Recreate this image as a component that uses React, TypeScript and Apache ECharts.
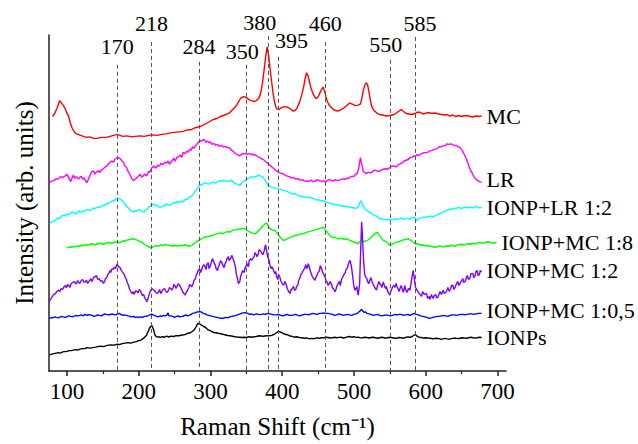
import React, { useEffect, useRef } from "react";
import * as echarts from "echarts";

// Raman shift (cm-1) vs intensity (arb. units, stacked offsets)
const mcData: number[][] = [
  [80,256],[83,259],[86,264],[88,268],[90,272],[92,270],[94,268],[96,266],[98,263],[100,259],[102,257],[105,249],[107,245],[109,242],[112,239],[115,238],[119,237],[123,236],[127,235],[132,235.5],[137,234],[142,234],[148,235],[155,235],[160,236],[165,237],[170,238],[174,237],[178,236],[184,236.5],[190,235.5],[196,236],[202,236.5],[208,236],[214,237],[220,237.5],[226,237],[232,238],[238,238.5],[244,239.5],[250,240],[256,240.5],[262,241],[268,242.5],[274,243],[280,245],[286,246],[292,248],[298,250.5],[304,253],[309,254],[314,256],[318,257],[323,258.5],[327,260],[331,263],[334,265],[337,268],[340,272],[343,275],[346,276],[349,275.5],[352,274],[355,272.5],[358,272],[361,271],[364,272],[367,274],[369,277],[371,283],[373,292],[375,304],[377,316],[379,326],[381,318],[383,305],[385,293],[387,281],[389,272],[391,266],[393,263.5],[396,263],[399,265],[403,266],[407,265.5],[411,264],[415,261.5],[418,262],[421,265],[424,270],[427,277],[430,286],[432,294],[434,300],[436,297],[438,291],[440,285],[443,279],[446,275],[448,274],[451,277],[454,282],[457,285.7],[459,282],[461,276],[463,271],[466,267],[470,264],[474,262],[478,261.5],[482,263],[486,264.5],[490,267],[494,269.5],[498,268.5],[502,267],[506,267.5],[509,268.5],[511,274],[513,282],[515,287],[517,290],[519,288],[521,281],[523,272],[525,266],[528,262],[532,259.5],[536,258],[540,257.5],[545,256.5],[550,257],[554,257.5],[558,259],[562,261],[566,263],[569,261],[573,259],[577,258.5],[581,258],[585,259],[589,260.5],[593,260],[597,258.5],[601,259.5],[605,260],[609,259],[613,259.5],[618,258.5],[622,258],[626,257.5],[630,258],[634,256.5],[638,257.5],[642,256],[646,257],[650,256],[655,257],[660,256.5],[665,255.5],[670,256.5],[674,256],[678,256.5]
];

const lrData: number[][] = [
  [76,189.7],[79,191],[82,191.5],[85,193.5],[88,193],[91,195.5],[94,194.5],[97,196],[100,198],[103,194],[105,190.3],[107,194],[109,197],[111,194],[113,195.5],[116,193],[118,194.7],[120,196],[122,193],[124,194],[126,191],[128,189.7],[131,195],[134,200],[137,201.3],[139,198],[141,200],[144,201.5],[146,199.7],[148,202],[150,203],[153,205],[156,206.3],[158,208.5],[160,210],[163,211.3],[165,210],[167,213],[170,214.5],[172,214.7],[175,213],[177,211],[179,209.7],[181,206],[183,205],[185,201],[187,199],[190,194],[193,191.3],[195,193],[197,194],[200,196.5],[202,198],[204,195],[206,196],[208,198],[211,196.3],[214,201],[216,200],[218,204],[221,206.3],[224,204],[226,207],[229,206],[231,209],[234,207.5],[236,210],[239,209],[241,211.3],[243,208],[245,210],[247,212],[249,214],[251,211],[253,214.7],[256,216],[258,217],[260,215],[262,220],[265,218.5],[267,221.3],[269,220],[271,223],[273,222],[275,225.5],[277,224],[279,226.3],[281,228],[283,230],[286,232],[288,231.3],[291,233],[294,230],[296,231.5],[298,229.5],[300,230.5],[302,228],[305,229],[307,227],[310,228],[312,226],[315,227],[318,225.5],[321,226],[323,224.7],[326,225],[328,223],[331,221.5],[333,220],[335,218.5],[337,218],[340,216.5],[342,217],[345,219],[347,218],[349,219],[351,218],[354,219],[356,217.5],[359,218.5],[361,217],[363,217.5],[365,216.3],[368,215],[370,214],[373,213],[375,212],[377,210.5],[379,209.7],[381,208],[383,207],[386,205],[388,204],[390,202.5],[392,201.3],[395,200],[398,199],[401,198.5],[404,197],[407,196],[410,195.5],[413,194],[416,194.7],[419,193],[422,193.5],[425,192],[428,192.5],[431,191],[434,191.3],[437,190.5],[440,192],[443,190.5],[446,191],[449,192.5],[452,191.5],[455,190.5],[457,191.3],[460,190],[462,191.3],[465,192.5],[468,192],[471,191],[474,192.5],[477,191.5],[480,192],[483,193],[486,193.5],[488,192.5],[490,194],[492,193.5],[494,194.7],[496,195.5],[498,196],[500,195.5],[502,197.5],[505,199],[507,205],[509,214.7],[511,208],[513,201],[515,199.7],[517,198.5],[520,200],[523,199],[526,200.5],[529,202],[532,201.3],[535,200.5],[538,202],[541,203],[544,203.5],[547,203],[550,204.7],[553,206],[556,206],[559,205.5],[562,207.5],[565,208.5],[568,209.7],[570,211.5],[573,212],[576,213],[578,214.5],[581,215],[583,216.3],[586,216],[588,217.5],[591,217],[594,218.5],[597,219.5],[601,219.7],[604,220.5],[606,221.5],[609,222],[612,223],[615,223.5],[617,224.3],[620,226],[622,225.5],[625,226.5],[628,227],[630,228.5],[633,228],[636,228.5],[638,227.5],[641,227],[643,226.5],[646,225.5],[648,224.7],[651,222],[653,219],[655,216.3],[658,211],[661,204.7],[664,200],[666,197.5],[668,194.7],[670,193],[672,192],[675,190.5],[678,189.7]
];

const lr12Data: number[][] = [
  [76,148],[78,149.5],[80,151],[82,150.5],[84,152],[86,153.5],[88,154],[90,153],[92,155.5],[94,156.5],[96,157],[98,156],[100,158],[102,157],[105,158.5],[107,160],[110,159],[112,158],[115,159.5],[117,161],[120,159.7],[122,160.5],[125,161],[127,162.5],[130,162],[132,161],[135,163],[137,164],[140,163.5],[143,165],[146,164.7],[148,166],[150,167],[152,166],[155,168.5],[157,168],[160,169.7],[162,170.5],[164,171.5],[166,171],[168,173],[170,173.2],[172,173.7],[174,173],[176,172],[178,170.5],[180,169],[182,167],[184,165],[186,164],[188,162],[190,161],[193,159.7],[195,161.5],[198,161],[200,162.5],[203,161.5],[205,160],[208,160.3],[210,162],[212,163],[214,165],[216,166],[218,167.5],[221,168],[223,167],[226,166.5],[228,165],[231,164.7],[233,166],[236,166],[238,168],[241,167.5],[243,166.5],[246,168],[249,169.5],[252,169],[254,170.5],[257,169.7],[259,171],[262,170],[264,172],[266,173],[268,172.5],[270,174.7],[272,175.5],[274,176],[276,178],[278,180],[280,182],[282,184],[284,186],[286,188],[288,187],[290,188.5],[292,189.5],[295,189],[297,188],[300,188.5],[302,190],[305,189.7],[307,189],[310,190],[313,191.5],[316,190.5],[319,192],[322,191],[324,190.5],[327,191.3],[329,192],[332,190],[334,189],[337,188],[339,187.5],[341,186.3],[343,188.5],[345,190],[347,191],[350,192.5],[352,193.5],[355,194],[357,195.5],[360,194.7],[362,195.5],[365,196],[367,197],[369,196.3],[371,196],[373,195],[375,193],[377,191],[379,188.5],[381,186.3],[383,186],[385,185],[388,184.5],[390,184],[393,183.5],[397,183],[400,182],[403,181.5],[406,181],[409,180],[412,179],[415,178],[418,178.5],[421,177],[424,176],[428,175.5],[431,175],[434,174.7],[437,175],[440,174],[443,173.5],[446,173],[449,172],[452,172],[455,171],[457,171.3],[460,170.5],[462,169.7],[465,169],[468,168.5],[471,168],[474,167.5],[477,167],[480,166.5],[483,166],[486,165.5],[488,166],[490,165],[492,165.5],[494.5,164.7],[496,165],[498,164],[500,164.5],[502,163.5],[504,164],[506,165],[508,169],[510,171.3],[512,168],[515,163],[517,162],[520,160.5],[522,159.5],[525,158.5],[527,157],[530,156.5],[533,155],[536,153],[539,153.5],[542,152.5],[545,152],[548,152],[550,151.5],[552,152.5],[555,152],[557,153.5],[560,152.5],[563,153],[566,154],[569,152.5],[572,153],[575,153.5],[578,152.5],[580,154],[582,154.5],[585,154.7],[587,151.3],[590,153],[592,154],[595,154],[597,155],[600,154.5],[603,155.5],[605,155],[608,156],[610,154.7],[613,156],[616,157],[619,158],[622,159],[625,160],[628,161],[631,162],[634,163],[637,162.5],[640,163.5],[643,164],[646,164.5],[649,163.5],[652,164],[655,165],[657,164.7],[660,164],[662,165],[665,164],[667,164.5],[670,165.5],[672,165],[675,164],[678,164.7]
];

const mc18Data: number[][] = [
  [100,124],[103,124.5],[105,125],[108,124.5],[110,125.5],[113,125],[115,126],[118,125.5],[120,126.5],[123,126],[125.5,127.3],[128,126.5],[131,127],[134,128],[137,127.5],[140,127],[143,128],[146,128.5],[148.8,128],[151,127.5],[154,128.5],[157,129.5],[160,129],[162,128.5],[165,129],[168,130],[170,129.7],[173,129],[175,129.5],[178,131],[180,130.5],[183,131.5],[186,132],[189,132.5],[192.8,133],[195,132.5],[197,132],[199,131],[201,130.5],[203,130],[204.5,129.7],[206,128.5],[208,127.5],[210,126.5],[212,125.5],[214,125],[216,124],[218,124.5],[221,125],[223,126],[226,126],[228,125.5],[231,127],[234,126],[237,127.3],[239,127],[242,126.5],[245,126],[248,125.5],[251,126.5],[255.4,125.3],[258,126.5],[261,126],[264,127],[267,126.5],[270,125.5],[274,126.3],[276,127.5],[279,129],[281,130.5],[283,131.3],[286,132],[288,133.5],[291,134.5],[295,135],[298,135.5],[302,136.3],[305,137],[308,138],[311,138.5],[314,139],[317,138],[320.5,139.7],[323,140],[325,140.5],[327,139.5],[330,141.3],[333,142],[336,142],[339,143],[342,142.5],[345,143.5],[348.3,143],[350,142],[352,141],[355,140],[357,139],[360,138.5],[362,138],[364,139],[367,141],[370,143],[372,145],[374,146.5],[376,148],[378.5,149],[380,147],[381,145],[383,143.5],[386,142],[388,141.5],[390,141.3],[392,139.5],[395,137],[398,134],[401.6,131.3],[404,132],[407,133],[410,134],[413,135],[416,136],[420,136.5],[422,137],[425,137.5],[427,138.5],[429.5,138],[432,139],[436,140],[439,140.5],[443,141.5],[446,142],[450,143],[453,143.5],[457.3,144.7],[459,143],[461,141],[463,139.5],[465,137.5],[467,136],[469,134.7],[472,134.5],[475,134],[478,133],[482,133.5],[486,132.5],[490,133],[493,132],[496,131],[499,130],[501,129.5],[504,128.5],[506,128],[508,130],[510.8,131.3],[513,130],[515,130.5],[517,131],[520,132],[522,133],[525,135],[527,137],[530,138.5],[532.5,139.7],[534,138],[536,136],[538,134],[540,132],[543,131],[545,130],[548,128],[550,126.3],[552,127],[555,128],[557,129],[559,129.7],[562,130],[564,130.5],[567,131.5],[570,132],[573,132.5],[575.7,133],[578,132],[580,131],[583,129.5],[585,128],[588,128],[590,127.5],[593,126.5],[596,127],[599,126],[602,126.5],[605,125.5],[608,125.5],[612,124.5],[615,124.7],[618,125.5],[622,125.5],[625,124.5],[629,126],[632,125.5],[636,126.5],[640,125.5],[643,126.3],[646,127],[650,127.5],[654,126.5],[658,128],[662,127.5],[666,128.5],[670,128],[675.5,129.7],[678,128.5],[682,129],[686,130],[690,129.5],[694,128.5],[698.7,129.7]
];

const mc12Data: number[][] = [
  [75.4,69.7],[77,72],[79,74],[81,76.5],[83,77],[85,79],[86,80],[88.4,81.3],[90,80],[92,83],[94,82],[96,85],[98,86],[99,83.5],[101,87],[102,86.3],[104,84],[106,88],[108,89],[110,90],[112,88],[113,87.5],[115,91],[116,89.7],[118,88],[120,91],[122,92],[124,89],[126,90],[127,91.5],[129,88],[130,89.7],[132,91],[133,93],[135,90],[136,92],[138,95],[139.5,94.7],[141,96],[143,92],[145,93],[147,90],[149,91],[151,88],[153,91],[154,93],[156,95],[157,97],[159,99],[160,101],[161,99],[162.7,103],[164,102],[166,104.5],[168,103],[169,106],[170,107.5],[171,106.3],[172,105],[174,104],[176,101],[178,99],[180,97],[181,94.7],[183,92],[184,89],[186,86],[187,83],[189,80],[190.5,78],[192,80],[193,77],[195,79],[196,81],[198,80],[199,78.5],[201,82],[202,81.3],[204,78],[205,76],[207,77],[208,74],[210,72],[211.4,69.7],[213,73],[214,75],[215,78],[216,80],[218.4,83],[220,82],[222,81],[224,79],[226,78],[228,80],[229,82],[231,78],[232,79.7],[234,82],[236,83],[238,80],[240,79],[242,82],[243,84],[245,83],[246,81.3],[248,84],[249,87],[251,85],[252,83],[254,86],[255.4,88],[257,86],[258,85],[260,82],[261,80],[263,78],[264.8,76.3],[266,79],[268,81],[270,84],[271,87],[273,86],[274,84.7],[276,88],[277,91],[279,93],[280,96],[282,99],[283,101.3],[285,103],[286,99],[288,102],[289,105],[291,107],[292.6,104.7],[294,102],[295,107],[297,109],[298,103],[300,106],[302,111.3],[303,113],[305,109],[307,106],[308,103],[310,101],[311,104.7],[313,108],[314,111],[316,109],[317,107],[319,104],[320.5,108],[322,110],[323,113],[325,115],[326,111],[328,113],[330,116.3],[331,114],[333,110],[335,104],[336,98],[338,92],[339,88],[341,90],[342,95],[344,99],[345,101],[347,99],[348,103],[350,106],[351,108],[353,105],[354,111],[356,113],[357.6,111.3],[359,113],[361,115],[362,119],[364,117],[365,115],[366.8,118],[368,122],[370,121],[372,118],[373,117],[375,121],[376,124.7],[377,127],[378,122],[379,118],[380,114.7],[382,111],[383,106],[385,103],[386,105],[388,101],[390,98],[391,100],[392.4,94.7],[394,92],[395,97],[397,94],[398,91],[400,88],[401.6,86.3],[403,88],[404,90],[406,86],[407,83],[409,80],[411,78],[412,81],[414,83],[416,85],[417,81],[419,82],[420,84.7],[422,87],[423,91],[425,94],[426,97],[428,99],[429.5,101.3],[431,103],[432,105],[433,107],[434,103],[435,104],[436.4,108],[438,104],[439,101],[441,97],[442,95],[444,93],[445.7,91.3],[447,94],[449,97],[450,99],[452,101],[453,106],[455,103],[456,100],[458,97],[460,94],[461,91],[463,89],[464,86.3],[466,88],[467,90],[469,87],[470,84],[472,82],[473.6,79.7],[475,82],[476,85],[478,88],[480,90],[481,86],[483,93],[485,95],[486,97],[488,99],[489,102],[491,104],[492,107],[493,109],[494.5,111.3],[496,107],[497,103],[498,97],[499,91],[500,85],[501.5,81.3],[503,83],[504,85],[505,80],[506,76.3],[507,82],[508,88],[509.5,123],[510.8,150],[512,133],[513.5,111],[515,98],[516,95],[518,93],[519,90],[521,88],[522,91],[524,94],[525,90],[527,87],[529,84],[531.6,81.3],[533,86],[535,90],[536,88],[538,86],[539,84],[541,89.7],[542,87],[544,83],[545,85],[547,80],[549,78],[550,76.3],[551,79],[553,83],[554,85],[556,86],[557,84],[559,88],[560,85],[562,82],[563,80],[565,84.7],[566,86],[568,81],[569,79],[571,86],[572,82],[574,79],[576,83],[578,81.3],[579,85],[580,90],[581,95],[582.6,101.3],[584,94],[585,88],[586,84],[588,81.3],[590,79],[592,77],[594,75],[596,80],[598,77],[601,78],[603,73],[605,75],[606,72],[608,77],[609,75],[610.5,73],[612,76],[614,77],[615,74],[617,74],[619,78],[620,80],[622,77],[624.4,81.3],[626,78],[628,79],[630,82],[631,84],[633,80],[635,83],[636,86],[638,86.3],[639,82],[641,84],[643,88],[645,90],[646,86],[648,88],[650,91],[652,93],[653,89],[655,90],[657,94],[658,96],[660,92],[662,94],[663,98],[666,98],[667,94],[669,96],[670,100],[672,101],[673,96],[675,97],[676,101],[678,99.7]
];

const mc105Data: number[][] = [
  [75,53],[78,53.5],[80,53.5],[83,54.5],[85,54],[88,53.5],[90,54.2],[93,55],[95,54.5],[98,54],[100,54.7],[103,55.5],[105,55],[108,54.5],[110,55.2],[113,56],[115,55.5],[118,56],[120,56.5],[123,55.5],[125,57],[128,56],[130,56.7],[133,56.5],[135,56],[138,55],[140,55.5],[143,56.5],[145,56],[148,55.5],[150,56.5],[153,57.5],[155,57],[158,56.5],[160,56.8],[163,57.5],[165,57],[168,56.5],[170,57.3],[173,58],[175,57],[178,56],[180,56.5],[183,56],[185,55.5],[188,55],[190,54.5],[193,55],[195,54],[198,54.5],[200,53.7],[203,54.5],[205,54],[208,55],[210,55],[212,55.5],[214,56],[216,56.5],[218,57.3],[220,56.5],[222,56],[225,55],[227,54.5],[230,55.5],[232,55],[235,56],[237,55.5],[239,56],[241,58.5],[242,55.5],[245,55.5],[247,55],[250,54],[252,54.7],[255,55.5],[257,54.5],[260,55],[262,55],[264,56],[266,56.5],[268,55.5],[270,56],[273,57],[275,58],[278,58.5],[280,59],[282,59.5],[284.8,59.7],[287,59.5],[290,58],[293,57.5],[295,56.5],[298,56],[300,55.5],[303,55],[306,54.5],[309,54],[312,53.5],[315,53],[318,53],[321,54],[324,53.5],[327,54.5],[330,55],[333,55.5],[336,56],[339,57],[342,57.5],[345,58.5],[348,58.7],[350,58.5],[352,58],[355,57],[357,57.5],[360,56.5],[362,57],[365,57.5],[368,56.7],[371,57],[374,57.5],[377,57],[380,58],[383,57.5],[386,57],[389,56.5],[392,56.5],[395,57],[398,56],[401,55.5],[404,56.3],[407,57],[410,56],[413,56],[416,56.5],[419,57],[422,56],[425,55.5],[428,56.5],[431,57],[434,57],[437,56.5],[440,57.5],[443,58],[446,57.5],[449,57],[452,58],[455,58],[458,58.5],[461,58],[464,58],[467,57.5],[470,57],[473,56],[476,56.5],[479,57.5],[482,57],[485,56],[488,56.5],[491,57],[494,56.5],[497,56],[500,57],[503,57.5],[505,58],[508,60],[510.8,62],[512,60.5],[514,59],[516,59.5],[518,58],[521,57.5],[524,57],[527,56],[530,56.5],[533,57],[536,56],[539,55.5],[542,56],[545,56.5],[548,56],[551,55.5],[554,56],[557,57],[560,56.5],[563,57],[566,57],[569,56],[572,56.5],[575,57],[578,56],[581,57],[584,58],[587,57],[590,56.5],[593,55.5],[596,55],[599,54.5],[602,54],[605,53],[608,53.5],[610,54],[613,54.5],[616,55],[619,55],[622,55.5],[625,56],[628,55.5],[631,55],[634,56],[637,56.5],[640,56.5],[643,56],[646,56.5],[649,57],[652,57],[655,56.5],[658,57],[661,57.5],[664,57.5],[667,57],[670,57.5],[674,58],[678,58]
];

const ionpData: number[][] = [
  [76,16.3],[79,17],[82,17.5],[85,18],[88,18.5],[91,18],[94,19.2],[97,19.5],[100,19.7],[103,20.5],[106,20.5],[109,21],[112,21.5],[115,21],[118,22],[121,22.5],[125,22.5],[128,23.5],[132.5,23],[136,23.5],[140,24],[143,24.5],[147,25],[151,24.5],[155,25.5],[158,26],[162,26.2],[166,26],[170,27],[173,26.5],[177,27.5],[181,28],[185,28.5],[189,28],[193,29],[197,29.5],[200,30.5],[203,31],[205,32],[207,33],[209,34.5],[211,36],[212,38],[214,41],[215,43],[217,45],[218.4,45.7],[220,43],[221,41],[222,38],[223,35.7],[225,34.5],[226,34],[228,34.5],[230,33.7],[233,34.5],[236,34],[239,35],[242,34.2],[245,35],[249,34.7],[252,35.5],[256,35.5],[259,36],[263,36.5],[266,37],[269,38],[272,38.5],[274,39.5],[276,40.5],[278,42],[280,44.5],[281,46],[282,47.5],[283.2,48],[284.5,47],[286,47],[287.5,46],[289,45.7],[291,44.5],[293,44],[295,42.5],[297,41.3],[300,40.5],[302,39.5],[304,39],[306,38.5],[308,38.5],[310.8,38],[314,37.5],[317,37],[320,36.5],[324,35.7],[327,35.5],[331,35],[334,34.5],[338,34.2],[341,34],[344,33.7],[347,34],[350.6,33.7],[354,34.5],[357,34],[361,34.5],[364,34.7],[368,35.5],[371,35.2],[374,35],[378,35.5],[381,35.3],[384,35.7],[386,36],[388,36.5],[390,37.5],[392,38.5],[394,39.5],[396,39.7],[398,39],[400,38.5],[402,37.5],[404,37],[407,36.5],[410,35.5],[413,35],[417,34],[420,34.5],[424,33.7],[427,33.5],[431,33],[434,33.3],[438,32.3],[441,32.8],[445,32.5],[448,33.3],[452,33],[455,33.5],[458,33.5],[461,34],[464,33.7],[467,33.2],[470,33.5],[473,34],[476,33.5],[479,33.8],[482,34],[485,33.2],[488,33.7],[491,34.3],[494,34.7],[497,34],[500,34.5],[503,33.8],[506,34],[509,33.3],[512,33.5],[515,34],[518,33.7],[521,33.2],[524,33.7],[527,34],[530,33.5],[533,33],[536,33.5],[539,34],[542,33.5],[545,33],[548,33.7],[551,34],[554,33.5],[557,33],[560,33],[563,33.7],[566,33.5],[569,33],[572,33.7],[575,34.3],[578,34],[581,34.5],[583,35.7],[585,36.5],[586,36.3],[587.5,35.5],[589,34.5],[591,34],[594,33.7],[597,33],[600,33.5],[603,33.2],[606,33],[609,32.5],[612,32.7],[615,33],[618,32.5],[621,32],[624,32.3],[627,32.8],[630,32.3],[633,32],[636,32.5],[639,33],[642,33],[645,32.5],[648,33],[651,33.5],[654,33.2],[657,33],[660,33.5],[663,34],[666,33.5],[669,33.2],[672,33.5],[675,34],[678,33.7]
];

const seriesNames = ["MC", "LR", "IONP+LR 1:2", "IONP+MC 1:8", "IONP+MC 1:2", "IONP+MC 1:0,5", "IONPs"];
const seriesColors = ["#ff0000", "#ff00ff", "#00ffff", "#00ff00", "#8000ff", "#0000ff", "#000000"];
const seriesData = [mcData, lrData, lr12Data, mc18Data, mc12Data, mc105Data, ionpData];

// Marked Raman peaks (cm-1)
const peakPositions = [170, 218, 284, 350, 380, 395, 460, 550, 585];
const peakLabels = ["170", "218", "284", "350", "380", "395", "460", "550", "585"];

const xTickValues = [100, 200, 300, 400, 500, 600, 700];
const xMinorTickValues = [150, 250, 350, 450, 550, 650];

// layout of the peak markers (line top height, label height, label x shift)
const peakLineTop = [308, 331, 311, 308, 337, 316, 331, 313, 336];
const peakLabelY = [326, 350, 326, 321, 351, 332, 349.5, 328, 350];
const peakLabelDx = [0, 0, 0, -4, -8, 13, 0, -4, 5];
const endLabelDy = [0, -3, 0, 0, -1, -3, 0];

const FONT = "'Liberation Serif', 'Times New Roman', serif";

export default function App() {
  const ref = useRef<HTMLDivElement>(null);
  useEffect(() => {
    if (!ref.current) return;
    const chart = echarts.init(ref.current, null, { renderer: "svg" });
    const lines = seriesData.map((d, i) => ({
      type: "line",
      name: seriesNames[i],
      data: d,
      showSymbol: false,
      symbol: "none",
      lineStyle: { color: seriesColors[i], width: 1.4 },
      itemStyle: { color: seriesColors[i] },
      endLabel: {
        show: true,
        formatter: "{a}",
        distance: 5,
        offset: [0, endLabelDy[i]],
        color: "#000",
        fontSize: 22,
        fontFamily: FONT,
      },
      z: 3,
    }));
    const markerSeries = {
      type: "line",
      name: "peaks",
      data: [],
      silent: true,
      markLine: {
        silent: true,
        symbol: ["none", "none"],
        label: { show: false },
        lineStyle: { color: "#555", type: [4, 3], width: 1 },
        data: peakPositions.map((p, i) => [
          { coord: [p, peakLineTop[i]] },
          { coord: [p, 0] },
        ]),
      },
      z: 2,
    };
    chart.setOption({
      animation: false,
      textStyle: { fontFamily: FONT },
      grid: { left: 49, right: 132, top: 35, bottom: 71 },
      xAxis: [
        {
          type: "value",
          min: 75,
          max: 712,
          name: "Raman Shift (cm\u207B\u00B9)",
          nameLocation: "middle",
          nameGap: 43,
          nameTextStyle: { fontFamily: FONT, fontSize: 25, color: "#000" },
          axisLine: { lineStyle: { color: "#222", width: 1.5 } },
          axisTick: { show: true, customValues: xTickValues, length: 5, lineStyle: { color: "#222", width: 1.5 } },
          axisLabel: { customValues: xTickValues, fontSize: 23, fontFamily: FONT, color: "#000", margin: 9 },
          splitLine: { show: false },
        },
        {
          type: "value",
          min: 75,
          max: 712,
          position: "bottom",
          axisLine: { show: false },
          axisTick: { show: true, customValues: xMinorTickValues, length: 3, lineStyle: { color: "#222", width: 1.2 } },
          axisLabel: { show: false },
          splitLine: { show: false },
        },
      ],
      yAxis: {
        type: "value",
        min: 0,
        max: 338,
        name: "Intensity (arb. units)",
        nameLocation: "middle",
        nameGap: 12,
        nameTextStyle: { fontSize: 25, fontFamily: FONT, color: "#000" },
        axisLine: { show: true, lineStyle: { color: "#222", width: 1.5 } },
        axisTick: { show: false },
        axisLabel: { show: false },
        splitLine: { show: false },
      },
      series: [markerSeries, ...lines],
    });
    // peak labels placed through the chart's own coordinate system
    const graphic = peakPositions.map((p, i) => {
      const pt = chart.convertToPixel({ xAxisIndex: 0, yAxisIndex: 0 }, [p, peakLabelY[i]]) as number[];
      return {
        type: "text",
        x: pt[0] + peakLabelDx[i],
        y: pt[1],
        silent: true,
        style: {
          text: peakLabels[i],
          fill: "#000",
          fontSize: 22,
          fontFamily: FONT,
          align: "center",
          verticalAlign: "middle",
        },
      };
    });
    chart.setOption({ graphic });
    return () => chart.dispose();
  }, []);
  return <div ref={ref} style={{ width: 638, height: 444, position: "absolute", left: 0, top: 0 }} />;
}
